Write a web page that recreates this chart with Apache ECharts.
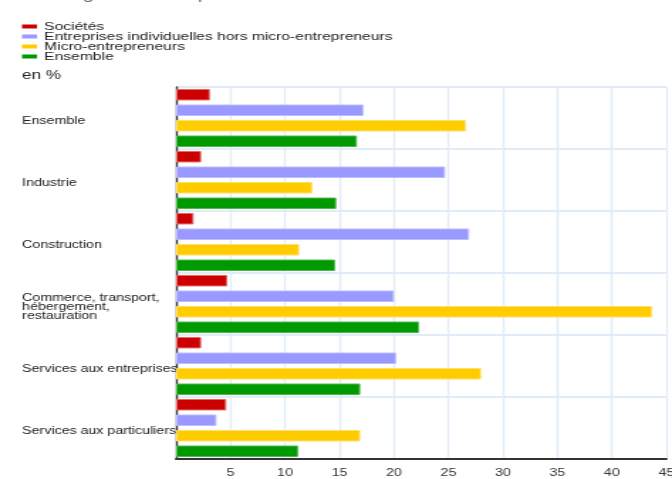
<!DOCTYPE html>
<html><head><meta charset="utf-8">
<script src="https://cdn.jsdelivr.net/npm/echarts@6/dist/echarts.min.js"></script>
<style>html,body{margin:0;padding:0;background:#fff;overflow:hidden}
#c{width:473px;height:479px;transform:scaleX(1.4207);transform-origin:0 0}</style>
</head><body><div id="c"></div>
<script>
const categories = ["Ensemble", "Industrie", "Construction", "Commerce, transport,\nhébergement,\nrestauration", "Services aux entreprises", "Services aux particuliers"];
const seriesNames = ["Sociétés", "Entreprises individuelles hors micro-entrepreneurs", "Micro-entrepreneurs", "Ensemble"];
const societes = [3.1, 2.3, 1.6, 4.7, 2.3, 4.6];
const entreprisesInd = [17.2, 24.7, 26.9, 20.0, 20.2, 3.7];
const microEntr = [26.6, 12.5, 11.3, 43.7, 28.0, 16.9];
const ensemble = [16.6, 14.7, 14.6, 22.3, 16.9, 11.2];
const xTicks = [0, 5, 10, 15, 20, 25, 30, 35, 40, 45];
const values = [societes, entreprisesInd, microEntr, ensemble];
const colors = ["#cc0000", "#9999ff", "#ffcc00", "#009900"];
const borders = ["#e36a6a", "#bdbdff", "#ffe066", "#4db84d"];
const font = "Liberation Sans, Arial, sans-serif";
const chart = echarts.init(document.getElementById('c'), null, {renderer: 'canvas'});
chart.setOption({
  animation: false,
  color: colors,
  textStyle: {fontFamily: font},
  graphic: [
    {type: 'text', left: 7, top: -12, style: {text: "Statut légal des entreprises", font: "14px " + font, fill: "#666"}},
    {type: 'text', left: 15.5, top: 70, style: {text: "en %", font: "12px " + font, fill: "#222"}}
  ],
  legend: {
    orient: 'vertical', left: 15.5, top: 21, padding: 0, itemWidth: 10.6, itemHeight: 4, itemGap: -1,
    icon: 'rect',
    itemStyle: {borderWidth: 0},
    textStyle: {fontSize: 11, lineHeight: 10, color: '#222', fontFamily: font},
    data: seriesNames
  },
  grid: {left: 124, top: 87, width: 345, bottom: 20, containLabel: false, outerBoundsMode: 'none'},
  xAxis: {
    type: 'value', min: xTicks[0], max: xTicks[xTicks.length-1], interval: 5,
    axisLine: {show: true, onZero: false, lineStyle: {color: '#333', width: 2}},
    axisTick: {show: false},
    axisLabel: {color: '#333', fontSize: 10, margin: 9, fontFamily: font, formatter: v => v === 0 ? '' : String(v)},
    splitLine: {show: true, lineStyle: {color: '#e1ecf7', width: 1.4}}
  },
  yAxis: {
    type: 'category', inverse: true, data: categories,
    axisLine: {show: true, lineStyle: {color: '#333', width: 1.4}},
    axisTick: {show: false},
    axisLabel: {
      align: 'left', margin: 108.4, color: '#222', fontSize: 10, lineHeight: 9, fontFamily: font,
      formatter: v => '{s|}\n' + v.split('\n').map(l => '{a|' + l + '}').join('\n'),
      rich: {s: {lineHeight: 6, fontSize: 6}, a: {fontSize: 10, lineHeight: 9, color: '#222', fontFamily: font}}
    },
    splitLine: {show: true, lineStyle: {color: '#e1ecf7', width: 2}}
  },
  series: values.map((v, i) => ({
    name: seriesNames[i], type: 'bar', data: v,
    barWidth: 11.5, barGap: '35%',
    itemStyle: {color: colors[i], borderColor: borders[i], borderWidth: 1}
  }))
});
</script></body></html>
